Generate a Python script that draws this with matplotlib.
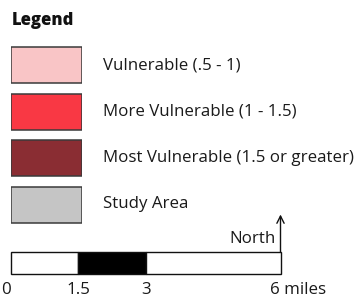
import matplotlib
matplotlib.use("Agg")
import matplotlib.pyplot as plt
from matplotlib.transforms import blended_transform_factory, offset_copy

# legend entries
categories = [
    "Vulnerable (.5 - 1)",
    "More Vulnerable (1 - 1.5)",
    "Most Vulnerable (1.5 or greater)",
    "Study Area",
]
colors = ["#f9c5c6", "#f93844", "#8a2d33", "#c5c5c5"]

# scale bar (miles)
scale_ticks = [0, 1.5, 3, 6]
scale_labels = ["0", "1.5", "3", "6 miles"]
scale_fills = ["white", "black", "white"]

W, H = 362, 299
FS = 12.2
plt.rcParams["font.family"] = ["Open Sans", "DejaVu Sans"]

fig = plt.figure(figsize=(W / 100, H / 100), dpi=100)


def px_axes(x0, y0, x1, y1):
    # axes placed by pixel box (top-left origin)
    return fig.add_axes([x0 / W, 1 - y1 / H, (x1 - x0) / W, (y1 - y0) / H])


fig.text(11.5 / W, 1 - 25 / H, "Legend", fontsize=12, fontweight="heavy",
         color="#111111", ha="left", va="baseline")

# legend swatches
ax = px_axes(11, 41.75, 82, 227.75)
ax.set_xlim(0, 1)
ax.set_ylim(len(categories) - 0.5, -0.5)
ax.axis("off")
ypos = list(range(len(categories)))
ax.barh(ypos, 1, height=36 / 46.5, left=0, color=colors,
        edgecolor="#3a3a3a", linewidth=1.1)
for y, label in zip(ypos, categories):
    ax.text(92 / 71, y + 4 / 46.5, label, fontsize=FS, color="#1a1a1a",
            ha="left", va="baseline", clip_on=False)

# scale bar
sb = px_axes(11, 252, 280.5, 274)
sb.set_xlim(scale_ticks[0], scale_ticks[-1])
sb.set_ylim(0, 1)
sb.axis("off")
lefts = scale_ticks[:-1]
widths = [b - a for a, b in zip(scale_ticks[:-1], scale_ticks[1:])]
sb.barh([0.5] * len(widths), widths, height=1, left=lefts, color=scale_fills,
        edgecolor="#111111", linewidth=1.0, clip_on=False)
trans = blended_transform_factory(sb.transData, fig.transFigure)
label_y = 1 - 293.5 / H
for t, lab in zip(scale_ticks, scale_labels):
    if lab.startswith("6"):
        tr = offset_copy(trans, fig=fig, x=-10, y=0, units="dots")
        sb.text(t, label_y, lab, transform=tr, fontsize=FS,
                color="#1a1a1a", ha="left", va="baseline")
    else:
        dx = -4.5 if t == 0 else 0
        tr = offset_copy(trans, fig=fig, x=dx, y=0, units="dots")
        sb.text(t, label_y, lab, transform=tr, fontsize=FS,
                color="#1a1a1a", ha="center", va="baseline")

# north arrow
sb.annotate("", xy=(scale_ticks[-1], 1 - 214.5 / H), xycoords=trans,
            xytext=(scale_ticks[-1], 1 - 252 / H), textcoords=trans,
            arrowprops=dict(arrowstyle="->", color="#111111", lw=1.0,
                            shrinkA=0, shrinkB=0, mutation_scale=13))
north_tr = offset_copy(trans, fig=fig, x=-4.5, y=0, units="dots")
sb.text(scale_ticks[-1], 1 - 243.3 / H, "North", transform=north_tr,
        fontsize=FS, color="#1a1a1a", ha="right", va="baseline")

fig.savefig("out.png", dpi=100)
